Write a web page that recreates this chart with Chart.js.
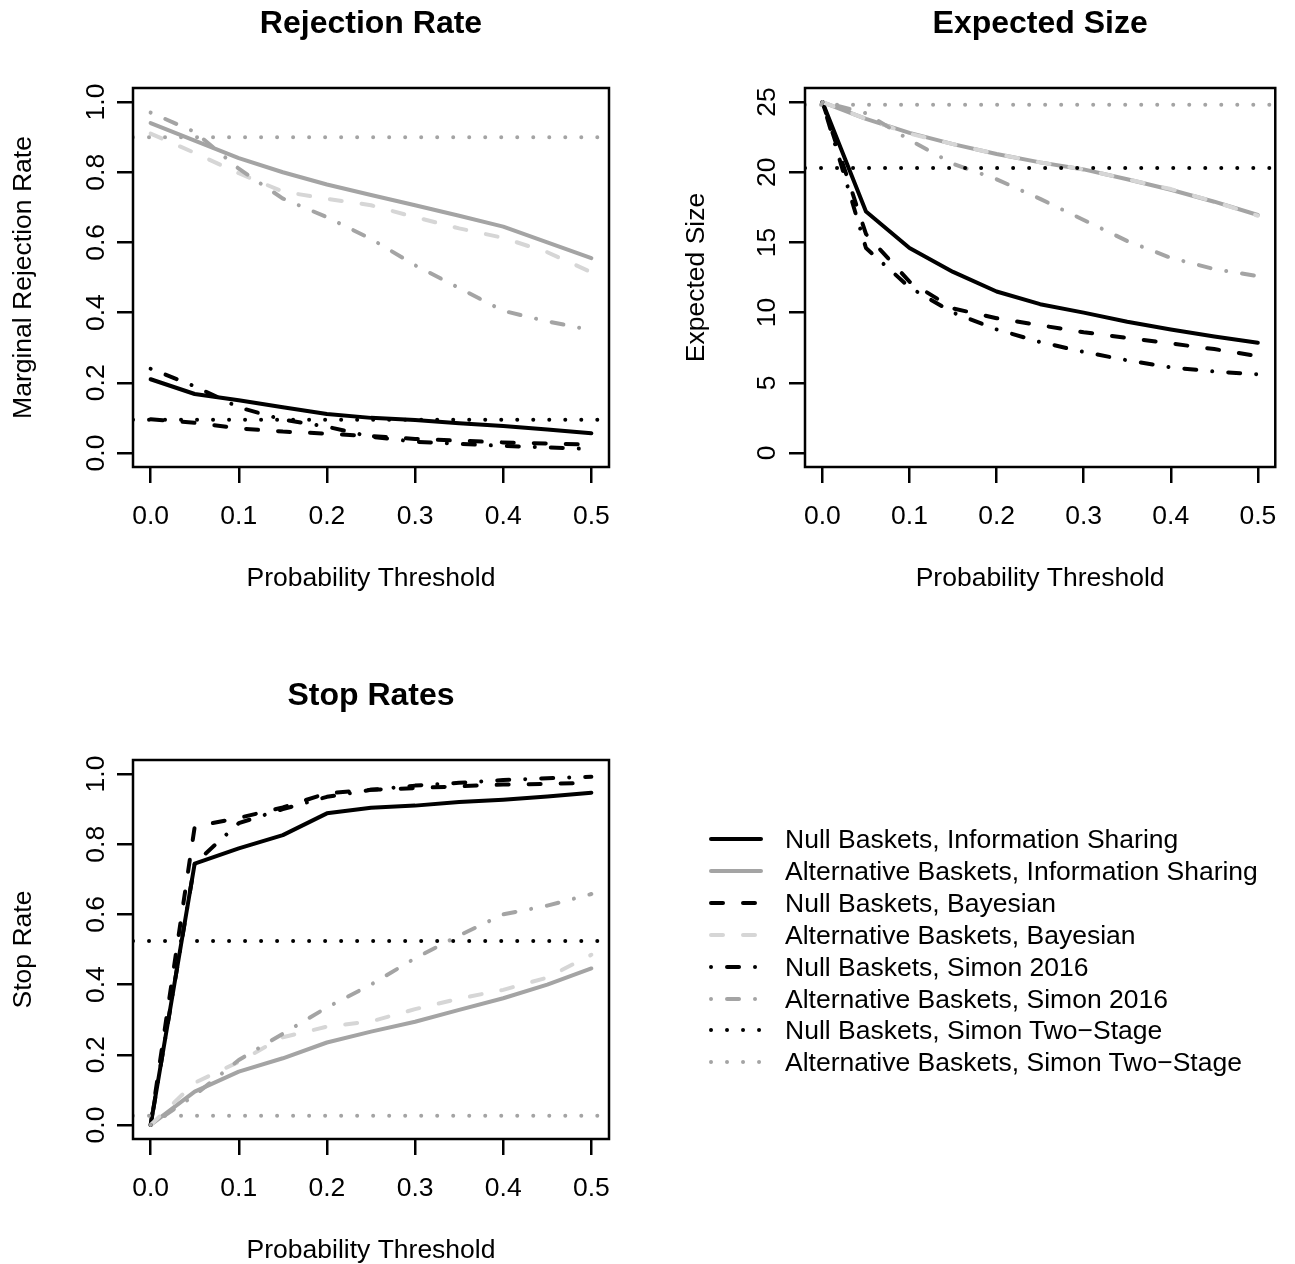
<!DOCTYPE html>
<html><head><meta charset="utf-8">
<script src="https://cdn.jsdelivr.net/npm/chart.js@4"></script>
<style>
html,body{margin:0;padding:0;background:#fff;overflow:hidden;width:1295px;height:1264px;position:relative;}
canvas{position:absolute;display:block;}
.lg{position:absolute;left:0;height:32px;line-height:32px;font-family:"Liberation Sans",Arial,Helvetica,sans-serif;font-size:26.5px;color:#000;white-space:nowrap;}
.lg svg{position:absolute;left:703px;top:6px;}
.lg span{position:absolute;left:785px;top:0;}
</style></head>
<body>
<canvas id="c1" width="647" height="632" style="left:0;top:0"></canvas>
<canvas id="c2" width="648" height="632" style="left:647px;top:0"></canvas>
<canvas id="c3" width="647" height="672" style="left:0;top:632px"></canvas>
<div id="legend"></div>
<script>
// ---------------- data ----------------
const thresholds = [0, 0.05, 0.1, 0.15, 0.2, 0.25, 0.3, 0.35, 0.4, 0.45, 0.5];
const xTicks = [0, 0.1, 0.2, 0.3, 0.4, 0.5];
const rateTicks = [0, 0.2, 0.4, 0.6, 0.8, 1.0];
const sizeTicks = [0, 5, 10, 15, 20, 25];

const seriesNames = [
  "Null Baskets, Information Sharing",
  "Alternative Baskets, Information Sharing",
  "Null Baskets, Bayesian",
  "Alternative Baskets, Bayesian",
  "Null Baskets, Simon 2016",
  "Alternative Baskets, Simon 2016",
  "Null Baskets, Simon Two\u2212Stage",
  "Alternative Baskets, Simon Two\u2212Stage"
];

// Rejection rate
const rejNullIS    = [0.21, 0.168, 0.15, 0.13, 0.111, 0.10, 0.094, 0.085, 0.077, 0.067, 0.056];
const rejAltIS     = [0.94, 0.89, 0.84, 0.80, 0.765, 0.735, 0.706, 0.676, 0.645, 0.60, 0.555];
const rejNullBayes = [0.096, 0.086, 0.07, 0.061, 0.055, 0.048, 0.04, 0.035, 0.03, 0.027, 0.024];
const rejAltBayes  = [0.91, 0.855, 0.797, 0.745, 0.724, 0.706, 0.672, 0.64, 0.613, 0.572, 0.515];
const rejNullSimon = [0.24, 0.19, 0.13, 0.095, 0.075, 0.046, 0.032, 0.026, 0.02, 0.016, 0.011];
const rejAltSimon  = [0.97, 0.915, 0.81, 0.725, 0.672, 0.61, 0.535, 0.47, 0.405, 0.375, 0.35];
const rejTwoStage  = [0.095, 0.90];   // null, alternative

// Expected size
const sizeNullIS    = [25, 17.2, 14.6, 12.9, 11.5, 10.6, 10.0, 9.35, 8.8, 8.3, 7.85];
const sizeAltIS     = [25, 23.8, 22.8, 22.0, 21.3, 20.7, 20.2, 19.5, 18.75, 17.9, 16.95];
const sizeNullBayes = [25, 15.6, 12.2, 10.3, 9.6, 9.1, 8.6, 8.2, 7.8, 7.4, 6.9];
const sizeAltBayes  = [25, 23.8, 22.75, 22.0, 21.3, 20.7, 20.2, 19.5, 18.8, 17.9, 16.9];
const sizeNullSimon = [25, 14.6, 11.8, 10.0, 8.8, 7.9, 7.2, 6.6, 6.1, 5.8, 5.6];
const sizeAltSimon  = [25, 24.2, 22.3, 20.6, 19.5, 18.1, 16.6, 15.1, 13.9, 13.1, 12.6];
const sizeTwoStage  = [20.3, 24.8];

// Stop rates
const stopNullIS    = [0, 0.745, 0.788, 0.826, 0.888, 0.904, 0.91, 0.92, 0.927, 0.936, 0.947];
const stopAltIS     = [0, 0.095, 0.152, 0.19, 0.235, 0.266, 0.294, 0.328, 0.361, 0.40, 0.446];
const stopNullBayes = [0, 0.85, 0.875, 0.905, 0.945, 0.955, 0.96, 0.965, 0.97, 0.972, 0.975];
const stopAltBayes  = [0, 0.12, 0.18, 0.25, 0.28, 0.295, 0.33, 0.36, 0.385, 0.42, 0.485];
const stopNullSimon = [0, 0.745, 0.86, 0.90, 0.935, 0.955, 0.967, 0.975, 0.983, 0.988, 0.992];
const stopAltSimon  = [0, 0.085, 0.185, 0.26, 0.335, 0.40, 0.475, 0.54, 0.60, 0.625, 0.658];
const stopTwoStage  = [0.524, 0.026];

// ---------------- styles ----------------
const FONT = '"Liberation Sans", Arial, Helvetica, sans-serif';
const GREY = '#a4a4a4';
const LIGHT = '#d6d6d6';
const DASH = [12, 20];
const DOTDASH = [0.01, 16, 12, 16];
const DOT = [0.01, 16];
const STYLES = [
  {color: '#000', dash: []},
  {color: GREY, dash: []},
  {color: '#000', dash: DASH},
  {color: LIGHT, dash: DASH},
  {color: '#000', dash: DOTDASH},
  {color: GREY, dash: DOTDASH},
  {color: '#000', dash: DOT},
  {color: GREY, dash: DOT}
];
const LW = 4;
const X_MIN = -0.02, X_MAX = 0.52;
const FS = 26.5;

function measure(txt, font) {
  const c = document.createElement('canvas').getContext('2d');
  c.font = font; return c.measureText(txt).width;
}

const boxPlugin = {
  id: 'rbox',
  afterDraw(chart) {
    const a = chart.chartArea, ctx = chart.ctx;
    ctx.save();
    ctx.strokeStyle = '#000'; ctx.lineWidth = 2.5;
    ctx.strokeRect(a.left, a.top, a.right - a.left, a.bottom - a.top);
    ctx.restore();
  }
};

function makeChart(id, title, yTitle, curves, twoStage, yMin, yMax, yTicks, yFmt, L) {
  const datasets = curves.map((arr, i) => ({
    label: seriesNames[i],
    data: thresholds.map((t, j) => ({x: t, y: arr[j]})),
    borderColor: STYLES[i].color,
    borderDash: STYLES[i].dash,
    borderWidth: LW, borderCapStyle: 'round', borderJoinStyle: 'round',
    pointRadius: 0, tension: 0, fill: false, order: 8 - i
  }));
  twoStage.forEach((v, k) => {
    const i = 6 + k;
    datasets.push({
      label: seriesNames[i],
      data: [{x: X_MIN, y: v}, {x: X_MAX, y: v}],
      borderColor: STYLES[i].color, borderDash: STYLES[i].dash,
      borderWidth: LW, borderCapStyle: 'round',
      pointRadius: 0, tension: 0, fill: false, order: 8 - i
    });
  });
  const tickFont = {family: FONT, size: FS};
  const yTickW = measure(yFmt(yTicks[yTicks.length - 1]), FS + 'px ' + FONT);
  return new Chart(document.getElementById(id), {
    type: 'line',
    data: {datasets},
    plugins: [boxPlugin],
    options: {
      responsive: false, animation: false, devicePixelRatio: 1,
      layout: {padding: {left: 0, right: L.padRight, top: 0, bottom: 0}},
      plugins: {
        legend: {display: false}, tooltip: {enabled: false},
        title: {display: true, text: title, fullSize: false, color: '#000',
          font: {family: FONT, size: 32, weight: 'bold', lineHeight: 1.2},
          padding: {top: L.titleTop, bottom: L.titleBottom}}
      },
      scales: {
        x: {
          type: 'linear', min: X_MIN, max: X_MAX,
          afterBuildTicks: s => { s.ticks = xTicks.map(v => ({value: v})); },
          afterFit: s => { s.height = L.xAxisH; },
          grid: {drawOnChartArea: false, drawTicks: true, tickLength: 16, color: '#000', lineWidth: 2.5},
          border: {display: false},
          ticks: {color: '#000', font: tickFont, padding: 18, maxRotation: 0, minRotation: 0, autoSkip: false,
            callback: v => v.toFixed(1)},
          title: {display: true, text: 'Probability Threshold', color: '#000',
            font: {family: FONT, size: FS, lineHeight: 1.0}, padding: {top: 0, bottom: L.xTitleBottom}}
        },
        y: {
          type: 'linear', min: yMin, max: yMax,
          afterBuildTicks: s => { s.ticks = yTicks.map(v => ({value: v})); },
          afterFit: s => { s.width = L.yAxisW; },
          grid: {drawOnChartArea: false, drawTicks: true, tickLength: 16, color: '#000', lineWidth: 2.5},
          border: {display: false},
          ticks: {color: '#000', font: tickFont, minRotation: 90, maxRotation: 90, crossAlign: 'center',
            autoSkip: false, padding: L.yGap - yTickW / 2, callback: v => yFmt(v)},
          title: {display: true, text: yTitle, color: '#000',
            font: {family: FONT, size: FS, lineHeight: 1.0}, padding: {top: L.yTitleTop, bottom: 0}}
        }
      }
    }
  });
}

const fmt1 = v => v.toFixed(1);
const fmt0 = v => String(v);

makeChart('c1', 'Rejection Rate', 'Marginal Rejection Rate',
  [rejNullIS, rejAltIS, rejNullBayes, rejAltBayes, rejNullSimon, rejAltSimon], rejTwoStage,
  -0.04, 1.04, rateTicks, fmt1,
  {padRight: 38, yAxisW: 133, xAxisH: 165, titleTop: 5, titleBottom: 44.6, xTitleBottom: 40, yTitleTop: 10.5, yGap: 20});

makeChart('c2', 'Expected Size', 'Expected Size',
  [sizeNullIS, sizeAltIS, sizeNullBayes, sizeAltBayes, sizeNullSimon, sizeAltSimon], sizeTwoStage,
  -1, 26, sizeTicks, fmt0,
  {padRight: 14, yAxisW: 158, xAxisH: 165, titleTop: 5, titleBottom: 44.6, xTitleBottom: 40, yTitleTop: 36.5, yGap: 21});

makeChart('c3', 'Stop Rates', 'Stop Rate',
  [stopNullIS, stopAltIS, stopNullBayes, stopAltBayes, stopNullSimon, stopAltSimon], stopTwoStage,
  -0.04, 1.04, rateTicks, fmt1,
  {padRight: 38, yAxisW: 133, xAxisH: 165, titleTop: 45, titleBottom: 44.6, xTitleBottom: 40, yTitleTop: 10.5, yGap: 20});

// ---------------- legend ----------------
const lg = document.getElementById('legend');
seriesNames.forEach((name, i) => {
  const row = document.createElement('div');
  row.className = 'lg';
  row.style.top = (823 + i * 31.9) + 'px';
  row.style.width = '1295px';
  const dash = STYLES[i].dash.length ? STYLES[i].dash.join(' ') : 'none';
  row.innerHTML = '<svg width="66" height="20"><line x1="8" y1="10" x2="58" y2="10" stroke="' + STYLES[i].color +
    '" stroke-width="' + LW + '" stroke-linecap="round" stroke-dasharray="' + dash + '"/></svg><span></span>';
  row.querySelector('span').textContent = name;
  lg.appendChild(row);
});
</script>
</body></html>
